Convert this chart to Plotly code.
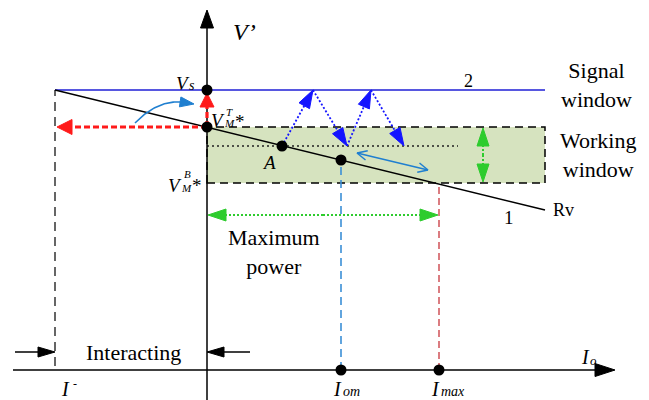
import numpy as np
import plotly.graph_objects as go

# ---- operating-point values (current I_o on x, voltage V' on y) ----
I_MINUS = -152          # I^- : left limit of the interacting region
I_OM = 134              # I_om : current at the marked operating point
I_MAX = 232             # I_max : maximum current
I_WIN = 338             # right edge of the signal / working windows
V_S = 280               # V_s : signal level (line 2)
V_MT = 243              # V_M^T* : top of working window
V_MB = 187              # V_M^B* : bottom of working window
V_OM = 210              # load-line voltage at I_om
POINT_A = [75, 224]     # operating point A

LOAD_I = [I_MINUS, I_WIN]       # load line 1 (Rv)
LOAD_V = [V_S, 160]
SIGNAL_I = [I_MINUS, I_WIN]     # signal line 2
SIGNAL_V = [V_S, V_S]

# zig-zag of the signal between A-level and V_s
BOUNCE_I = [75, 106, 140, 164, 197]
BOUNCE_V = [224, 280, 224, 280, 224]

A_LEVEL_END = 251               # end of the dotted A-level line
RIPPLE_I = [150, 221]           # two-way arrow along the load line
RIPPLE_V = [217, 200]
WIN_ARROW_I = 276               # height marker of the working window
POWER_V = 155                   # level of the "Maximum power" span
INTERACT_V = 18                 # level of the "Interacting" arrows
INTERACT_LEFT = -192
INTERACT_RIGHT = 43

X_AXIS = [-194, 408]
Y_AXIS = [-30, 360]

CURVE_CTRL_I = [-72, -50, -25, -13]   # bezier start, control, end, arrow tip
CURVE_CTRL_V = [247, 270, 268, 266]

FONT = "Liberation Serif"
BLUE = "#1414ff"
LINE_BLUE = "#1f1fd6"
SKY = "#1f7fd0"
RED = "#ff1a1a"
DARK_RED = "#c4262e"
GREEN = "#2ecc2e"
FILL = "#d6e3bf"

fig = go.Figure()


def seg(x, y, color="black", width=1.5, dash="solid"):
    fig.add_trace(go.Scatter(x=x, y=y, mode="lines",
                             line=dict(color=color, width=width, dash=dash),
                             hoverinfo="skip", showlegend=False))


def head(tail, tip, color, length, width):
    tail = np.asarray(tail, float)
    tip = np.asarray(tip, float)
    u = (tip - tail) / np.linalg.norm(tip - tail)
    n = np.array([-u[1], u[0]])
    base = tip - u * length
    p1 = base + n * width / 2
    p2 = base - n * width / 2
    fig.add_trace(go.Scatter(x=[tip[0], p1[0], p2[0], tip[0]],
                             y=[tip[1], p1[1], p2[1], tip[1]],
                             mode="lines", fill="toself", fillcolor=color,
                             line=dict(color=color, width=1),
                             hoverinfo="skip", showlegend=False))
    return base


def arrow(tail, tip, color, width=1.5, dash="solid", hl=15, hw=11):
    base = head(tail, tip, color, hl, hw)
    seg([tail[0], base[0]], [tail[1], base[1]], color, width, dash)


def open_head(tail, tip, color, length=11, spread=0.45, width=1.5):
    tail = np.asarray(tail, float)
    tip = np.asarray(tip, float)
    u = (tail - tip) / np.linalg.norm(tail - tip)
    xs, ys = [], []
    for s in (spread, -spread):
        c, sn = np.cos(s), np.sin(s)
        v = np.array([c * u[0] - sn * u[1], sn * u[0] + c * u[1]])
        xs += [tip[0] + v[0] * length, tip[0], None]
        ys += [tip[1] + v[1] * length, tip[1], None]
    seg(xs, ys, color, width)


# working window
fig.add_shape(type="rect", x0=0, x1=I_WIN, y0=V_MB, y1=V_MT,
              fillcolor=FILL, line=dict(color="black", width=1.5, dash="8px,5px"),
              layer="below")

# I^- boundary
seg([I_MINUS, I_MINUS], [4, V_S], "#333333", 1.5, "9px,6px")
# I_om and I_max drop lines
seg([I_OM, I_OM], [0, V_OM], "#3b8fd6", 1.6, "8px,5px")
seg([I_MAX, I_MAX], [0, V_MB], DARK_RED, 1.2, "7px,4px")

# signal line 2 and load line 1
seg(SIGNAL_I, SIGNAL_V, LINE_BLUE, 1.6)
seg(LOAD_I, LOAD_V, "black", 1.5)

# dotted A-level
seg([0, A_LEVEL_END], [POINT_A[1], POINT_A[1]], "#222222", 1.5, "2px,3px")

# axes
x_base = head([X_AXIS[0], 0], [X_AXIS[1], 0], "black", 20, 13)
seg([X_AXIS[0], x_base[0]], [0, 0], "black", 1.5)
y_base = head([0, Y_AXIS[0]], [0, Y_AXIS[1]], "black", 18, 13)
seg([0, 0], [Y_AXIS[0], y_base[1]], "black", 1.5)

# zig-zag signal arrows
for k in range(len(BOUNCE_I) - 1):
    arrow([BOUNCE_I[k], BOUNCE_V[k]], [BOUNCE_I[k + 1], BOUNCE_V[k + 1]],
          BLUE, 1.8, "2px,2px", hl=18, hw=12)

# red arrows from V_M^T*
arrow([0, V_MT], [I_MINUS + 2, V_MT], RED, 3.2, "6px,3px", hl=15, hw=15)
arrow([0, V_MT], [0, V_S - 3], RED, 3.2, "6px,3px", hl=14, hw=14)

# green span markers
for a, b in (([WIN_ARROW_I, (V_MT + V_MB) / 2], [WIN_ARROW_I, V_MT - 1]),
             ([WIN_ARROW_I, (V_MT + V_MB) / 2], [WIN_ARROW_I, V_MB + 1]),
             ([I_MAX / 2, POWER_V], [1, POWER_V]),
             ([I_MAX / 2, POWER_V], [I_MAX - 1, POWER_V])):
    arrow(a, b, GREEN, 2, "2px,2px", hl=18, hw=12)

# interacting region arrows
arrow([INTERACT_LEFT, INTERACT_V], [I_MINUS, INTERACT_V], "black", 1.5, hl=17, hw=10)
arrow([INTERACT_RIGHT, INTERACT_V], [0, INTERACT_V], "black", 1.5, hl=17, hw=10)

# ripple two-way arrow along the load line
seg(RIPPLE_I, RIPPLE_V, SKY, 1.5)
open_head([RIPPLE_I[1], RIPPLE_V[1]], [RIPPLE_I[0], RIPPLE_V[0]], SKY)
open_head([RIPPLE_I[0], RIPPLE_V[0]], [RIPPLE_I[1], RIPPLE_V[1]], SKY)

# curved arrow toward V_s
t = np.linspace(0, 1, 40)
P = np.array([CURVE_CTRL_I[:3], CURVE_CTRL_V[:3]], float)
cx = (1 - t) ** 2 * P[0, 0] + 2 * t * (1 - t) * P[0, 1] + t ** 2 * P[0, 2]
cy = (1 - t) ** 2 * P[1, 0] + 2 * t * (1 - t) * P[1, 1] + t ** 2 * P[1, 2]
seg(list(cx), list(cy), SKY, 1.6)
head([CURVE_CTRL_I[2] - 4, CURVE_CTRL_V[2] + 0.4],
     [CURVE_CTRL_I[3], CURVE_CTRL_V[3]], SKY, 14, 10)

# marked points
fig.add_trace(go.Scatter(x=[0, 0, POINT_A[0], I_OM, I_OM, I_MAX],
                         y=[V_S, V_MT, POINT_A[1], V_OM, 0, 0],
                         mode="markers", marker=dict(color="black", size=11),
                         hoverinfo="skip", showlegend=False))


def label(text, x, y, size=22, dx=0, dy=0, xanchor="center", yanchor="middle", italic=False):
    if italic:
        text = "<i>" + text + "</i>"
    fig.add_annotation(x=x, y=y, text=text, showarrow=False, xshift=dx, yshift=dy,
                       xanchor=xanchor, yanchor=yanchor, borderpad=0,
                       font=dict(family=FONT, size=size, color="black"))


label("V’", 0, Y_AXIS[1], 24, dx=37, dy=-22, italic=True)
label("V", 0, V_S, 19, dx=-24, dy=7, italic=True)
label("s", 0, V_S, 14, dx=-15, dy=5, italic=True)
# V_M^T*
label("V", 0, V_MT, 19, dx=11, dy=7, italic=True)
label("T", 0, V_MT, 11, dx=22, dy=15, italic=True)
label("M", 0, V_MT, 11, dx=22, dy=4, italic=True)
label("*", 0, V_MT, 19, dx=33, dy=6)
# V_M^B*
label("V", 0, V_MB, 19, dx=-32, dy=-2, italic=True)
label("B", 0, V_MB, 11, dx=-20, dy=9, italic=True)
label("M", 0, V_MB, 11, dx=-21, dy=-5, italic=True)
label("*", 0, V_MB, 19, dx=-10, dy=-2)

label("A", POINT_A[0], POINT_A[1], 19, dx=-13, dy=-16, italic=True)
label("2", 261, V_S, 18, dy=9)
label("1", I_WIN, LOAD_V[1], 19, dx=-36, dy=-7)
label("Rv", I_WIN, LOAD_V[1], 18, dx=18, dy=0)
label("Signal<br>window", I_WIN, V_S, 22, dx=51, dy=5)
label("Working<br>window", I_WIN, (V_MT + V_MB) / 2, 22, dx=53, dy=0)
label("Maximum<br>power", 67, POWER_V, 22, dy=-37)
label("Interacting", (I_MINUS + 0) / 2 + 2, INTERACT_V, 22)

label("I", X_AXIS[1], 0, 20, dx=-30, dy=13, italic=True)
label("o", X_AXIS[1], 0, 13, dx=-22, dy=10, italic=True)
label("I", I_MINUS, 0, 20, dx=10, dy=-19, italic=True)
label("-", I_MINUS, 0, 12, dx=20, dy=-14)
label("I", I_OM, 0, 20, dx=-4, dy=-19, italic=True)
label("om", I_OM, 0, 14, dx=10, dy=-21, italic=True)
label("I", I_MAX, 0, 20, dx=-4, dy=-19, italic=True)
label("max", I_MAX, 0, 14, dx=14, dy=-21, italic=True)

fig.update_layout(
    width=649, height=400, margin=dict(l=0, r=0, t=0, b=0),
    paper_bgcolor="white", plot_bgcolor="white", showlegend=False,
    xaxis=dict(range=[-207, 442], visible=False, fixedrange=True),
    yaxis=dict(range=[-30, 370], visible=False, fixedrange=True),
)

fig.write_html("out.html", config={"displayModeBar": False})
